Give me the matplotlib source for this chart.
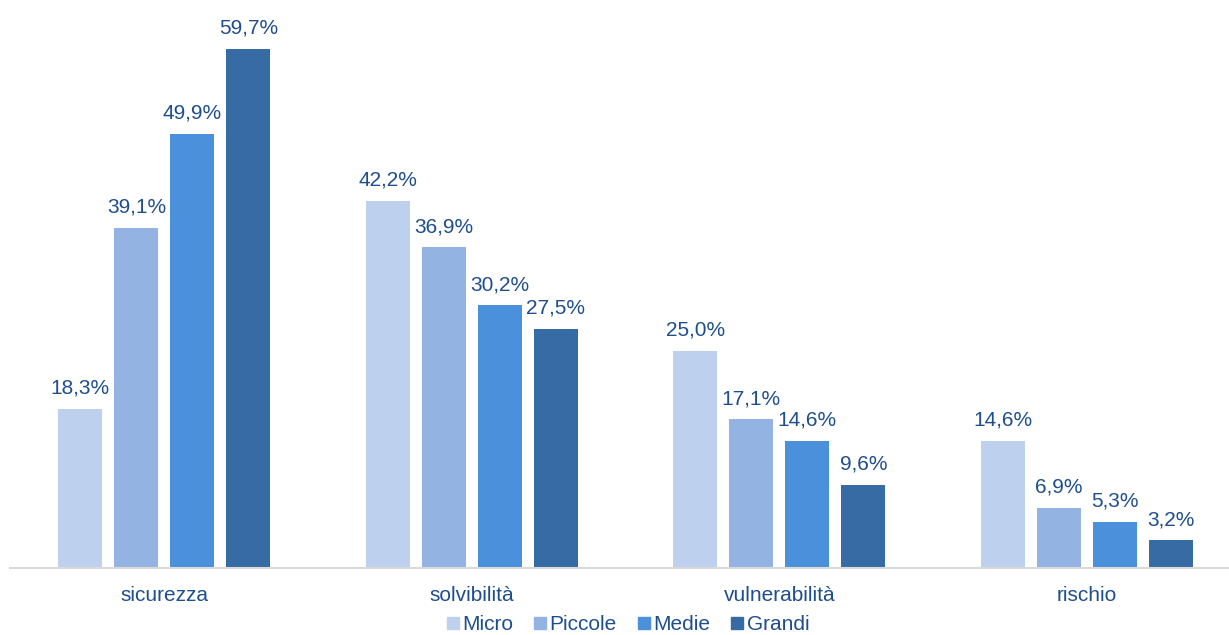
import matplotlib.pyplot as plt
from matplotlib.lines import Line2D
import numpy as np

plt.rcParams['font.family'] = ['Liberation Sans', 'DejaVu Sans']

# Dataset
CATEGORIES = ["sicurezza", "solvibilità", "vulnerabilità", "rischio"]
SERIES = ["Micro", "Piccole", "Medie", "Grandi"]
MICRO = [18.3, 42.2, 25.0, 14.6]
PICCOLE = [39.1, 36.9, 17.1, 6.9]
MEDIE = [49.9, 30.2, 14.6, 5.3]
GRANDI = [59.7, 27.5, 9.6, 3.2]

COLORS = ['#BDD0EE', '#93B4E3', '#4A90DA', '#376BA4']
TEXT = '#1F4E8C'

values = [MICRO, PICCOLE, MEDIE, GRANDI]

fig = plt.figure(figsize=(12.29, 6.35), dpi=100)
ax = fig.add_axes([0.0081, 0.1055, 0.9919, 0.849])

x = np.arange(len(CATEGORIES))
width = 0.143
step = 0.182

for i, (name, vals, col) in enumerate(zip(SERIES, values, COLORS)):
    pos = x + (i - 1.5) * step
    bars = ax.bar(pos, vals, width=width, color=col, label=name)
    for b, v in zip(bars, vals):
        ax.annotate(f'{v:.1f}%'.replace('.', ','),
                    xy=(b.get_x() + b.get_width() / 2, v),
                    xytext=(0, 8), textcoords='offset points',
                    ha='center', va='bottom', fontsize=15, color=TEXT)

ax.set_xlim(-0.502, 3.462)
ax.set_ylim(0, 62)
ax.set_xticks(x)
ax.set_xticklabels(CATEGORIES, fontsize=15, color=TEXT)
ax.tick_params(axis='x', length=0, pad=13)
ax.set_yticks([])
for s in ['top', 'right', 'left']:
    ax.spines[s].set_visible(False)
ax.spines['bottom'].set_color('#D9D9D9')
ax.spines['bottom'].set_linewidth(1.5)

# legend with small square markers under the axis
handles = [Line2D([], [], marker='s', linestyle='none', markersize=8.5,
                  markerfacecolor=c, markeredgecolor=c) for c in COLORS]
leg = fig.legend(handles, SERIES, loc='center', bbox_to_anchor=(628 / 1229, 10 / 635),
                 ncol=4, frameon=False, fontsize=15, handlelength=0.6,
                 handletextpad=0.15, columnspacing=1.0, borderpad=0)
for t in leg.get_texts():
    t.set_color(TEXT)

plt.savefig('out.png', dpi=100)
